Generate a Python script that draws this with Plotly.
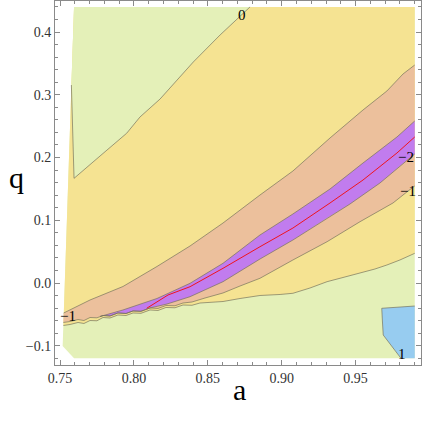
import plotly.graph_objects as go

# Outline of the sampled (a, q) region
domain_a = [0.7595, 0.99, 0.99, 0.7595, 0.7518]
domain_q = [0.44, 0.44, -0.12, -0.12, -0.1004]

# Contour 0, upper-left branch (runs down the left side then up to the top)
c0_top_a = [0.7577, 0.7595, 0.7771, 0.7951, 0.8041, 0.8177, 0.8402, 0.8583, 0.8786]
c0_top_q = [0.3155, 0.1668, 0.2024, 0.2386, 0.2645, 0.2932, 0.3522, 0.3952, 0.44]

# Contour 0, lower branch (the ragged one)
c0_low_a = [0.7523, 0.7568, 0.7622, 0.7662, 0.7703, 0.7750, 0.7791, 0.7838, 0.7892,
            0.7947, 0.7994, 0.8048, 0.8109, 0.8163, 0.8217, 0.8278, 0.8332, 0.8393,
            0.8447, 0.8515, 0.8603, 0.8718, 0.8853, 0.8989, 0.9076, 0.9191, 0.9307,
            0.9428, 0.9530, 0.9631, 0.9712, 0.9800, 0.99]
c0_low_q = [-0.0677, -0.0661, -0.0629, -0.0645, -0.0598, -0.0602, -0.0550, -0.0558,
            -0.0510, -0.0518, -0.0478, -0.0483, -0.0430, -0.0438, -0.0390, -0.0395,
            -0.0351, -0.0355, -0.0319, -0.0311, -0.0295, -0.0247, -0.0199, -0.0183,
            -0.0164, -0.0080, 0.0021, 0.0096, 0.0155, 0.0223, 0.0287, 0.0367, 0.0473]

# Contour -1, upper and lower branches
cm1_up_a = [0.7525, 0.7703, 0.7926, 0.8156, 0.8380, 0.8603, 0.8853, 0.9076, 0.9327,
            0.9550, 0.9712, 0.9821, 0.99]
cm1_up_q = [-0.0478, -0.0271, -0.0056, 0.0263, 0.0590, 0.0956, 0.1402, 0.1785, 0.2311,
            0.2757, 0.3060, 0.3331, 0.3474]
cm1_low_a = [0.7523, 0.7568, 0.7622, 0.7662, 0.7703, 0.7750, 0.7791, 0.7838, 0.7892,
             0.7947, 0.7994, 0.8048, 0.8109, 0.8163, 0.8217, 0.8278, 0.8332, 0.8393,
             0.8481, 0.8603, 0.8718, 0.8853, 0.9076, 0.9307, 0.9530, 0.9753, 0.9855, 0.99]
cm1_low_q = [-0.0629, -0.0614, -0.0582, -0.0598, -0.0550, -0.0555, -0.0518, -0.0526,
             -0.0478, -0.0486, -0.0446, -0.0451, -0.0398, -0.0406, -0.0359, -0.0363,
             -0.0319, -0.0303, -0.0239, -0.0159, -0.0048, 0.0075, 0.0367, 0.0658,
             0.0977, 0.1275, 0.1466, 0.1546]

# Contour -2, both sides of the purple band
cm2_up_a = [0.7771, 0.7926, 0.8156, 0.8380, 0.8603, 0.8853, 0.9076, 0.9327, 0.9550, 0.9780, 0.99]
cm2_up_q = [-0.0534, -0.0430, -0.0247, -0.0005, 0.0314, 0.0765, 0.1100, 0.1498, 0.1912, 0.2327, 0.2582]
cm2_low_a = [0.7771, 0.7791, 0.7838, 0.7892, 0.7947, 0.7994, 0.8048, 0.8109, 0.8224,
             0.8380, 0.8603, 0.8853, 0.9076, 0.9307, 0.9462, 0.9665, 0.9848, 0.99]
cm2_low_q = [-0.0534, -0.0518, -0.0526, -0.0478, -0.0486, -0.0446, -0.0451, -0.0398,
             -0.0335, -0.0218, 0.0021, 0.0382, 0.0685, 0.1036, 0.1259, 0.1594, 0.1960, 0.2056]

# Minimum curve (red)
min_a = [0.8087, 0.8231, 0.8380, 0.8603, 0.8853, 0.9076, 0.9327, 0.9550, 0.9780, 0.99]
min_q = [-0.0403, -0.0191, -0.0059, 0.0234, 0.0578, 0.0876, 0.1275, 0.1641, 0.2072, 0.2327]

# Contour 1 (bottom-right corner)
c1_a = [0.99, 0.9677, 0.9681, 0.9687, 0.9807]
c1_q = [-0.0367, -0.0403, -0.0590, -0.0829, -0.12]

# Contour labels
label_text = ["0", "\u22121", "\u22122", "\u22121", "1"]
label_a = [0.8729, 0.7556, 0.9841, 0.9855, 0.9814]
label_q = [0.4271, -0.0518, 0.2008, 0.1466, -0.1131]

GREEN = "rgb(228,240,184)"
YELLOW = "rgb(245,227,146)"
ORANGE = "rgb(236,192,156)"
PURPLE = "rgb(193,124,238)"
BLUE = "rgb(151,204,240)"
EDGE = "rgba(115,112,90,0.85)"
SERIF = "Liberation Serif, Times New Roman, serif"

fig = go.Figure()


def patch(xs, ys, color):
    fig.add_trace(go.Scatter(x=xs, y=ys, fill="toself", fillcolor=color, mode="lines",
                             line=dict(width=0), hoverinfo="skip", showlegend=False))


def edge(xs, ys, color=EDGE, width=0.8):
    fig.add_trace(go.Scatter(x=xs, y=ys, mode="lines", line=dict(color=color, width=width),
                             hoverinfo="skip", showlegend=False))


# filled bands, bottom layer first
patch(domain_a, domain_q, GREEN)
patch(c0_low_a + [domain_a[1], domain_a[0]], c0_low_q + [domain_q[1], domain_q[0]], YELLOW)
patch([domain_a[0]] + c0_top_a, [domain_q[0]] + c0_top_q, GREEN)
patch(cm1_up_a + cm1_low_a[::-1], cm1_up_q + cm1_low_q[::-1], ORANGE)
patch(cm2_up_a + cm2_low_a[::-1], cm2_up_q + cm2_low_q[::-1], PURPLE)
patch(c1_a + [domain_a[2]], c1_q + [domain_q[2]], BLUE)

# contour lines
for xs, ys in [(c0_top_a, c0_top_q), (c0_low_a, c0_low_q), (cm1_up_a, cm1_up_q),
               (cm1_low_a, cm1_low_q), (cm2_up_a, cm2_up_q), (cm2_low_a, cm2_low_q),
               (c1_a, c1_q)]:
    edge(xs, ys)
edge(min_a, min_q, color="rgb(240,20,30)", width=1)

for t, x, y in zip(label_text, label_a, label_q):
    fig.add_annotation(x=x, y=y, text=t, showarrow=False,
                       font=dict(family=SERIF, size=15, color="black"))

fig.add_annotation(xref="paper", yref="paper", x=0.503, y=-0.118, text="a", showarrow=False,
                   font=dict(family=SERIF, size=30, color="black"))
fig.add_annotation(xref="paper", yref="paper", x=-0.131, y=0.514, text="q", showarrow=False,
                   font=dict(family=SERIF, size=30, color="black"))

axis_style = dict(showline=True, linecolor="#8a8a8a", linewidth=1, mirror="ticks",
                  ticks="inside", ticklen=5, tickcolor="#8a8a8a", showgrid=False,
                  zeroline=False, automargin=False,
                  tickfont=dict(family=SERIF, size=14, color="#333"))

fig.update_xaxes(range=[0.74662, 0.99425], dtick=0.05, tick0=0.75, tickformat=".2f",
                 minor=dict(ticks="inside", ticklen=3, dtick=0.01, tickcolor="#8a8a8a"),
                 **axis_style)
fig.update_yaxes(range=[-0.13068, 0.4494], dtick=0.1, tick0=0, tickformat=".1f",
                 minor=dict(ticks="inside", ticklen=3, dtick=0.02, tickcolor="#8a8a8a"),
                 **axis_style)

fig.update_layout(width=422, height=427, margin=dict(l=55, r=1, t=1, b=62),
                  plot_bgcolor="white", paper_bgcolor="white")

# the page's default 8px body margin would shift the whole figure
fig.write_html("out.html", config={"displayModeBar": False},
               post_script="document.body.style.margin='0';")
